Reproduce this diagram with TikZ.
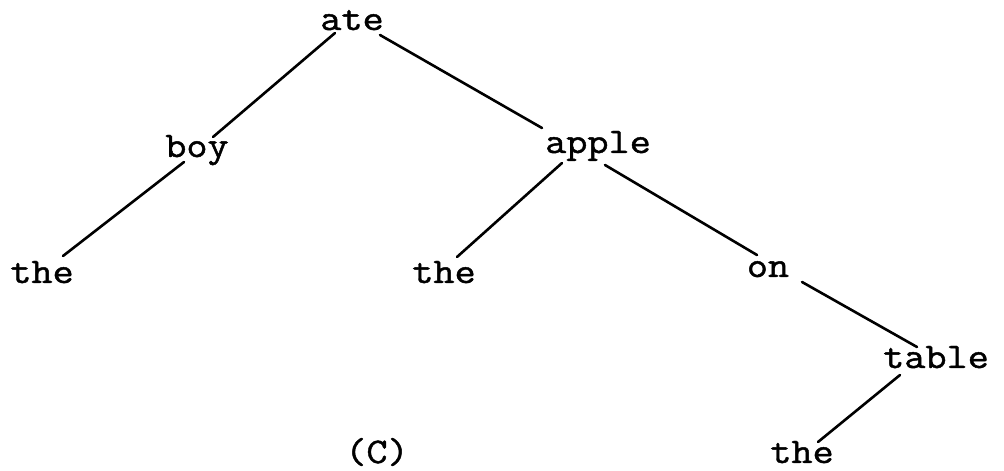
\documentclass[tikz,border=0pt]{standalone}
\usepackage{fontspec}
\newfontfamily\typewriter[FakeStretch=1.14, FakeBold=1.3]{Latin Modern Mono}
\usetikzlibrary{calc}
\tikzset{
  word/.style={inner sep=0pt, anchor=base, font=\typewriter\fontsize{36}{40}\selectfont},
  branch/.style={line width=2.6pt, line cap=round}
}
\begin{document}
\begin{tikzpicture}[x=1pt,y=1pt]
\useasboundingbox (0,0) rectangle (1004,471);
% nodes (base positions, y measured upward)
\node[word] (ate)    at (352,441) {ate};
\node[word] (boy)    at (197,314) {boy};
\node[word] (apple)  at (598,318) {apple};
\node[word] (theA)   at (42,188)  {the};
\node[word] (theB)   at (444,188) {the};
\node[word] (on)     at (768,194) {on};
\node[word] (table)  at (936,103) {table};
\node[word] (theC)   at (802,8)   {the};
\node[word] (label)  at (377,8)   {(C)};
% branches
\draw[branch] ($(ate.base)+(-17,-3)$) -- ($(boy.base)+(16,20)$);
\draw[branch] ($(ate.base)+(28,-5)$) -- ($(apple.base)+(-56,25)$);
\draw[branch] ($(boy.base)+(-13,-5)$) -- ($(theA.base)+(21,27)$);
\draw[branch] ($(apple.base)+(-36,-10)$) -- ($(theB.base)+(13,26)$);
\draw[branch] ($(apple.base)+(7,-12)$) -- ($(on.base)+(-11,22)$);
\draw[branch] ($(on.base)+(34,-5)$) -- ($(table.base)+(-19,21)$);
\draw[branch] ($(table.base)+(-36,-7)$) -- ($(theC.base)+(16,21)$);
\end{tikzpicture}
\end{document}
